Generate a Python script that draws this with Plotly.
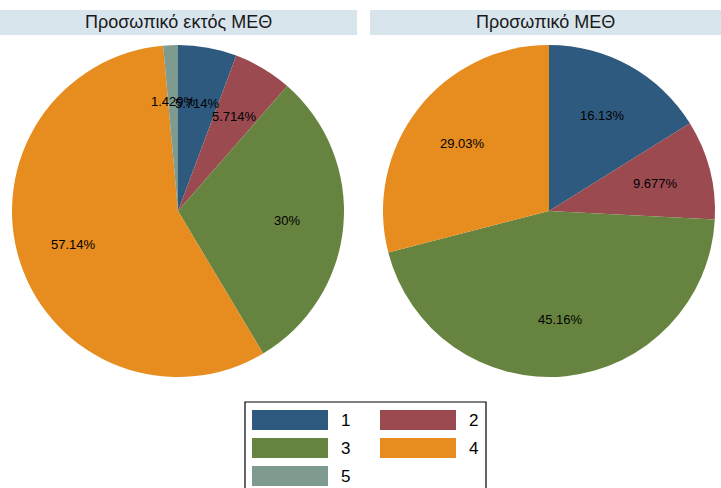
import math
import plotly.graph_objects as go

W, H = 721, 488

# Staff counts per category, two groups
categories = ["1", "2", "3", "4", "5"]
counts_outside_icu = [4, 4, 21, 40, 1]
counts_icu = [5, 3, 14, 9, 0]
panel_titles = ["Προσωπικό εκτός ΜΕΘ", "Προσωπικό ΜΕΘ"]
colors = ["#2e5a7f", "#9b4a50", "#66843f", "#e78c1e", "#7f9a8f"]

FONT = "Liberation Sans, Arial, sans-serif"


def px_x(x):
    return x / W


def px_y(y):
    return 1 - y / H


# Pie placement in pixels: (center x, center y, radius)
pies = [(178, 211, 166), (549, 211, 166)]
bands = [(0, 357), (370, 721)]

fig = go.Figure()
annotations = []
shapes = []

for (cx, cy, r), counts, title, (bx0, bx1) in zip(pies, [counts_outside_icu, counts_icu], panel_titles, bands):
    fig.add_trace(go.Pie(
        labels=categories,
        values=counts,
        marker=dict(colors=colors, line=dict(width=0)),
        sort=False,
        direction="clockwise",
        rotation=0,
        textinfo="none",
        showlegend=False,
        domain=dict(x=[px_x(cx - r), px_x(cx + r)], y=[px_y(cy + r), px_y(cy - r)]),
    ))
    # percentage labels at mid-angle of each slice
    total = sum(counts)
    cum = 0
    for v in counts:
        if v > 0:
            pct = 100 * v / total
            mid = (cum + v / 2) / total * 2 * math.pi
            lx = cx + 0.66 * r * math.sin(mid)
            ly = cy - 0.66 * r * math.cos(mid)
            annotations.append(dict(
                x=px_x(lx), y=px_y(ly), xref="paper", yref="paper",
                text=f"{pct:.4g}%", showarrow=False,
                font=dict(family=FONT, size=13, color="black"),
                xanchor="center", yanchor="middle",
            ))
        cum += v
    # panel title band
    shapes.append(dict(type="rect", xref="paper", yref="paper",
                       x0=px_x(bx0), x1=px_x(bx1), y0=px_y(35), y1=px_y(10),
                       fillcolor="#d9e5ec", line=dict(width=0), layer="below"))
    annotations.append(dict(
        x=px_x((bx0 + bx1) / 2), y=px_y(22.5), xref="paper", yref="paper",
        text=title, showarrow=False,
        font=dict(family=FONT, size=18, color="#1a1a1a"),
        xanchor="center", yanchor="middle",
    ))

# Legend box with wide colour swatches, two columns
shapes.append(dict(type="rect", xref="paper", yref="paper",
                   x0=px_x(245), x1=px_x(486), y0=px_y(492), y1=px_y(402),
                   fillcolor="white", line=dict(color="black", width=1.2)))
col_x = [252, 380]
for i, (cat, col) in enumerate(zip(categories, colors)):
    row, c = divmod(i, 2)
    sx0 = col_x[c]
    sy0 = 410 + row * 28
    shapes.append(dict(type="rect", xref="paper", yref="paper",
                       x0=px_x(sx0), x1=px_x(sx0 + 76), y0=px_y(sy0 + 20), y1=px_y(sy0),
                       fillcolor=col, line=dict(width=0)))
    annotations.append(dict(
        x=px_x(sx0 + 93), y=px_y(sy0 + 10.5), xref="paper", yref="paper",
        text=cat, showarrow=False,
        font=dict(family=FONT, size=17, color="black"),
        xanchor="center", yanchor="middle",
    ))

fig.update_layout(
    width=W, height=H,
    margin=dict(l=0, r=0, t=0, b=0),
    paper_bgcolor="white",
    plot_bgcolor="white",
    shapes=shapes,
    annotations=annotations,
    showlegend=False,
)

fig.write_html("out.html")
